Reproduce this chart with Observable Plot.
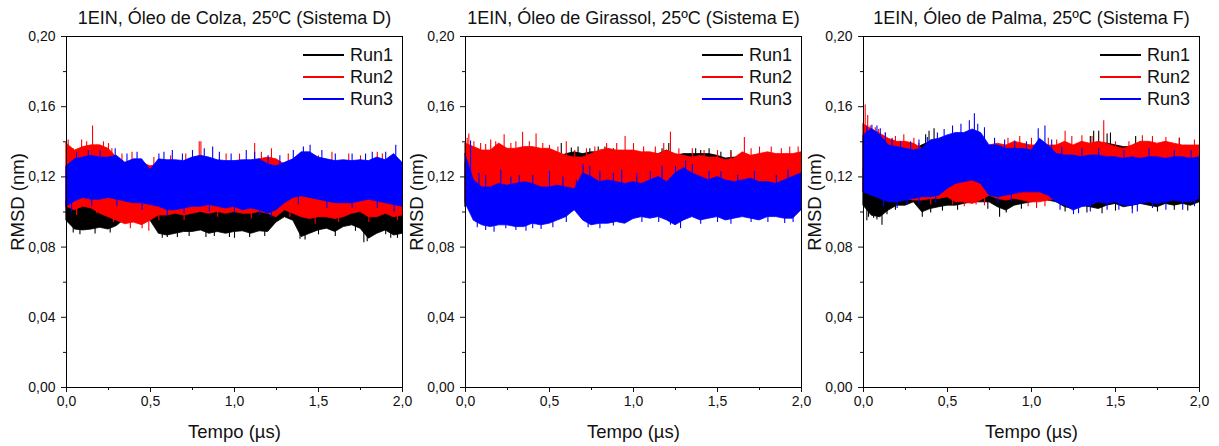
<!DOCTYPE html>
<html><head><meta charset="utf-8">
<script src="https://cdn.jsdelivr.net/npm/d3@7"></script>
<script src="https://cdn.jsdelivr.net/npm/@observablehq/plot@0.6"></script>
<style>
body{margin:0;background:#fff;font-family:"Liberation Sans",Arial,sans-serif;}
#wrap{position:relative;width:1219px;height:446px;overflow:hidden;background:#fff;}
#wrap svg{position:absolute;top:0;overflow:visible;}
.legend{position:absolute;font-size:18px;color:#111;line-height:22px;}
.legend .row{height:22px;display:flex;align-items:center;}
.legend .sw{display:inline-block;width:41px;height:2px;margin-right:6px;}
</style></head><body><div id="wrap"></div><script>
// ---------- data ----------
const TIME = [0,0.05,0.1,0.15,0.2,0.25,0.3,0.35,0.4,0.45,0.5,0.55,0.6,0.65,0.7,0.75,0.8,0.85,0.9,0.95,1,1.05,1.1,1.15,1.2,1.25,1.3,1.35,1.4,1.45,1.5,1.55,1.6,1.65,1.7,1.75,1.8,1.85,1.9,1.95,2];
const RUNS = ["Run1","Run2","Run3"];
const TITLES = ["1EIN, Óleo de Colza, 25ºC (Sistema D)","1EIN, Óleo de Girassol, 25ºC (Sistema E)","1EIN, Óleo de Palma, 25ºC (Sistema F)"];
const Y_LABEL = "RMSD (nm)";
const X_LABEL = "Tempo (\u00b5s)";
const Y_TICKS = [0,0.04,0.08,0.12,0.16,0.20];
const Y_MINOR = [0.02,0.06,0.10,0.14,0.18];
const X_TICKS = [0,0.5,1,1.5,2];
const X_MINOR = [0.25,0.75,1.25,1.75];

// Sistema D (Colza): lower/upper envelopes of each run + individual spikes
const D_RUN1_HI = [.106,.106,.107,.107,.106,.106,.105,.100,.100,.100,.100,.101,.100,.100,.101,.101,.101,.100,.100,.101,.101,.101,.100,.101,.100,.099,.102,.101,.100,.101,.101,.101,.100,.101,.101,.101,.100,.100,.101,.100,.101];
const D_RUN1_LO = [.095,.090,.0895,.090,.091,.090,.092,.096,.096,.096,.095,.0876,.0866,.0876,.0886,.0886,.0895,.0876,.0886,.0876,.0886,.089,.0876,.089,.0886,.094,.097,.095,.0857,.0876,.0895,.0905,.0886,.0914,.0924,.0905,.0848,.0876,.0895,.0866,.0876];
const D_RUN2_HI = [.139,.135,.137,.138,.138,.136,.131,.128,.128,.128,.126,.127,.127,.127,.127,.128,.129,.128,.127,.127,.127,.128,.129,.130,.131,.130,.127,.127,.128,.129,.128,.127,.127,.128,.128,.127,.128,.128,.127,.128,.127];
const D_RUN2_LO = [.103,.101,.103,.102,.099,.097,.095,.093,.094,.0925,.095,.098,.098,.099,.098,.099,.100,.099,.100,.099,.100,.099,.099,.100,.099,.097,.101,.099,.097,.096,.097,.097,.096,.097,.099,.100,.097,.097,.099,.097,.098];
const D_RUN3_HI = [.126,.130,.131,.132,.131,.131,.132,.128,.130,.130,.124,.130,.1295,.1295,.129,.131,.132,.131,.1295,.129,.129,.1295,.1295,.130,.127,.126,.128,.130,.134,.134,.131,.130,.129,.1295,.129,.1295,.129,.131,.1295,.133,.128];
const D_RUN3_LO = [.103,.106,.108,.107,.107,.108,.107,.106,.105,.105,.104,.103,.101,.101,.102,.103,.103,.104,.103,.102,.103,.101,.102,.101,.099,.101,.105,.108,.109,.108,.107,.106,.105,.105,.105,.106,.107,.106,.105,.104,.103];
const D_RUN1_SPK_T = [0.6,0.83,1.0,1.39,1.77,1.93,0.04,0.08,0.17,0.26,0.57,0.66,0.73,0.88,0.97,1.09,1.18,1.42,1.5,1.6,1.72,1.79,1.9,1.97];
const D_RUN1_SPK_V = [.0855,.0855,.085,.0845,.0825,.085,.088,.087,.0875,.088,.085,.0855,.086,.086,.0855,.0855,.086,.084,.087,.086,.089,.083,.087,.085];
const D_RUN2_SPK_T = [0.01,0.09,0.155,0.22,0.25,0.8,1.12,0.45,0.49,0.04,0.12,0.18,0.27,0.33,0.39,0.52,0.62,0.71,0.79,0.95,1.03,1.16,1.22,1.32,1.5,1.58,1.68,1.75,1.85,1.88,0.06,0.18,0.28,0.38,0.55,0.7,0.9,1.1,1.33,1.48,1.62,1.8,1.97];
const D_RUN2_SPK_V = [.141,.141,.149,.140,.139,.140,.139,.0905,.089,.136,.14,.138,.136,.133,.134,.131,.132,.133,.14,.133,.133,.134,.136,.133,.132,.134,.133,.132,.134,.133,.098,.099,.094,.0905,.095,.095,.097,.096,.097,.093,.094,.094,.095];
const D_RUN3_SPK_T = [0.58,0.87,1.07,1.45,1.96,0.06,0.13,0.2,0.29,0.36,0.42,0.55,0.63,0.69,0.75,0.82,0.91,0.98,1.12,1.2,1.27,1.35,1.41,1.52,1.6,1.7,1.78,1.82,1.9,0.03,0.15,0.3,0.45,0.6,0.7,0.85,1.0,1.15,1.22,1.38,1.55,1.7,1.85,1.95];
const D_RUN3_SPK_V = [.134,.137,.135,.138,.138,.134,.135,.135,.136,.133,.134,.133,.135,.133,.135,.136,.134,.133,.134,.132,.132,.135,.137,.135,.133,.133,.133,.134,.134,.100,.103,.103,.101,.098,.099,.100,.099,.098,.097,.104,.102,.102,.102,.100];

// Sistema E (Girassol)
const E_RUN1_HI = [.128,.130,.130,.131,.131,.131,.131,.131,.131,.131,.131,.131,.133,.134,.133,.134,.134,.134,.133,.132,.132,.131,.132,.133,.135,.132,.133,.133,.133,.133,.132,.1305,.131,.131,.131,.131,.131,.131,.131,.131,.130];
const E_RUN1_LO = [.103,.108,.109,.109,.108,.109,.108,.109,.109,.108,.109,.109,.110,.111,.110,.110,.109,.109,.110,.109,.110,.110,.109,.110,.111,.110,.111,.110,.110,.110,.110,.109,.110,.110,.110,.109,.110,.110,.110,.110,.110];
const E_RUN2_HI = [.139,.137,.135,.135,.139,.136,.136,.137,.137,.136,.136,.134,.132,.131,.131,.133,.135,.136,.135,.135,.135,.134,.134,.133,.135,.133,.132,.131,.132,.131,.131,.1295,.1305,.134,.132,.133,.134,.133,.133,.133,.134];
const E_RUN2_LO = [.106,.110,.111,.111,.112,.112,.111,.112,.112,.111,.111,.111,.112,.113,.113,.114,.112,.112,.112,.112,.112,.112,.112,.113,.112,.113,.115,.113,.112,.112,.112,.112,.112,.112,.112,.112,.112,.112,.112,.113,.114];
const E_RUN3_HI = [.133,.118,.114,.114,.116,.115,.116,.117,.116,.114,.114,.115,.114,.113,.122,.120,.117,.118,.117,.116,.117,.116,.118,.120,.117,.122,.125,.122,.120,.118,.120,.118,.117,.118,.119,.117,.117,.116,.118,.120,.122];
const E_RUN3_LO = [.105,.095,.0924,.0914,.0924,.0924,.0914,.0914,.0933,.0924,.0933,.0952,.0971,.101,.0952,.0924,.0933,.0933,.0943,.0933,.096,.0971,.0962,.0971,.0952,.0924,.0952,.0971,.0952,.0962,.0971,.0952,.0962,.0971,.0962,.0952,.0971,.0971,.0962,.0962,.101];
const E_RUN1_SPK_T = [0.57,0.83,1.21,1.37,1.58,0.63,0.67,0.74,0.79,0.88,1.17,1.4,1.45,1.52];
const E_RUN1_SPK_V = [.139,.137,.139,.136,.135,.1365,.137,.136,.137,.136,.136,.135,.136,.134];
const E_RUN2_SPK_T = [0.02,0.15,0.23,0.34,0.42,0.6,0.95,1.22,1.66,1.98,0.01,0.05,0.09,0.12,0.18,0.27,0.3,0.38,0.46,0.5,0.55,0.65,0.72,0.77,0.84,0.9,1.0,1.06,1.13,1.18,1.27,1.35,1.42,1.5,1.58,1.7,1.75,1.82,1.88,1.93];
const E_RUN2_SPK_V = [.1445,.141,.144,.1455,.1445,.140,.143,.1455,.1425,.137,.142,.14,.139,.1385,.14,.139,.14,.14,.139,.138,.137,.135,.136,.137,.139,.139,.139,.137,.137,.139,.136,.136,.135,.135,.134,.136,.137,.137,.136,.137];
const E_RUN3_SPK_T = [0.03,0.21,0.5,0.7,0.93,1.31,0.17,0.45,1.28,0.36,0.08,0.12,0.27,0.32,0.4,0.58,0.66,0.74,0.8,0.88,1.02,1.1,1.17,1.25,1.35,1.45,1.52,1.62,1.72,1.85,1.92,0.07,0.12,0.24,0.3,0.4,0.52,0.6,0.73,0.8,0.88,1.05,1.15,1.22,1.4,1.5,1.58,1.7,1.8,1.9,1.95];
const E_RUN3_SPK_V = [.1405,.124,.123,.127,.124,.129,.0885,.090,.0905,.089,.122,.121,.12,.121,.121,.12,.118,.126,.123,.122,.122,.123,.126,.126,.127,.123,.123,.121,.123,.121,.124,.091,.0895,.0905,.0895,.0905,.091,.094,.091,.0905,.092,.094,.094,.0925,.093,.094,.093,.094,.094,.0935,.094];

// Sistema F (Palma)
const F_RUN1_HI = [.125,.134,.134,.134,.135,.135,.135,.138,.140,.137,.135,.135,.134,.134,.135,.136,.136,.135,.136,.136,.136,.136,.136,.136,.137,.137,.138,.138,.139,.139,.138,.137,.137,.137,.137,.137,.137,.137,.137,.137,.137];
const F_RUN1_LO = [.1036,.0979,.097,.1008,.1036,.1036,.1055,.0998,.1017,.1027,.1036,.1036,.1046,.1055,.1055,.1055,.1027,.1008,.1036,.1046,.1055,.1065,.1065,.1055,.1027,.1017,.1036,.1027,.1017,.1036,.1046,.1027,.1036,.1046,.1036,.1027,.1046,.1036,.1046,.1036,.1055];
const F_RUN2_HI = [.150,.147,.1446,.1417,.140,.140,.1389,.136,.1341,.1331,.1331,.1331,.1331,.1322,.1331,.1379,.1389,.1379,.140,.1389,.1379,.1379,.1379,.1379,.140,.1379,.140,.1389,.140,.1389,.137,.136,.1379,.140,.140,.1389,.140,.1389,.1379,.1379,.1379];
const F_RUN2_LO = [.1112,.1131,.1112,.1093,.1084,.1074,.1065,.1065,.1074,.1074,.1084,.1055,.1055,.1046,.1065,.1093,.1074,.1065,.1074,.1065,.1055,.1055,.1065,.1074,.1074,.1074,.1084,.1074,.1084,.1084,.1084,.1074,.1084,.1084,.1093,.1084,.1084,.1093,.1084,.1093,.1093];
const F_RUN3_HI = [.1436,.1474,.1436,.1379,.137,.136,.135,.136,.1408,.1417,.1436,.145,.145,.147,.145,.1379,.1379,.136,.136,.136,.135,.1417,.1379,.1331,.1322,.1322,.1312,.1322,.1322,.1312,.1312,.1303,.1312,.1303,.1312,.1312,.1303,.1312,.1312,.1303,.1312];
const F_RUN3_LO = [.1112,.1093,.1074,.1055,.1055,.1065,.1074,.1084,.1084,.1093,.1131,.116,.117,.1179,.116,.1093,.1084,.1093,.1103,.1112,.1112,.1112,.1093,.1055,.1036,.1008,.1027,.1036,.1055,.1046,.1055,.1036,.1036,.1046,.1055,.1046,.1055,.1065,.1055,.1055,.1074];
const F_RUN1_SPK_T = [0.02,0.06,0.11,0.42,0.81,1.37,1.47,0.37,1.62,0.03,0.08,0.14,0.19,0.35,0.4,0.47,0.56,0.74,0.85,0.94,1.2,1.33,1.42,1.5,1.6,1.75,1.85,1.93,0.39,1.4,1.45,1.35,1.88];
const F_RUN1_SPK_V = [.095,.0965,.0925,.1475,.097,.146,.145,.144,.143,.097,.0955,.0985,.101,.097,.0995,.1005,.101,.1015,.0995,.1015,.100,.0995,.099,.1005,.1015,.1,.101,.1005,.146,.146,.1445,.143,.142];
const F_RUN2_SPK_T = [0.01,0.025,0.04,0.09,1.43,0.5,1.2,0.07,0.13,0.19,0.24,0.3,0.33,0.78,0.86,0.93,1.0,1.1,1.15,1.24,1.3,1.36,1.5,1.58,1.66,1.72,1.8,1.88,1.97,0.53,0.6,0.67,0.72,0.98,1.03,1.08,0.4];
const F_RUN2_SPK_V = [.161,.155,.149,.147,.152,.143,.146,.148,.145,.143,.144,.142,.139,.141,.142,.143,.142,.142,.141,.143,.1435,.143,.14,.14,.1435,.143,.1425,.142,.141,.104,.103,.104,.1035,.103,.102,.103,.104];
const F_RUN3_SPK_T = [0.66,0.63,0.68,1.08,0.05,0.1,1.25,1.6,0.02,0.08,0.13,0.17,0.22,0.28,0.33,0.38,0.44,0.48,0.53,0.58,0.72,0.78,0.84,0.9,0.97,1.04,1.12,1.18,1.3,1.4,1.55,1.7,1.85,1.95,0.12,0.2,0.26,0.33,0.43,0.8,0.88,1.17,1.28,1.35,1.45,1.52,1.63,1.72,1.8,1.9,1.97];
const F_RUN3_SPK_V = [.156,.152,.150,.149,.1495,.1475,.0985,.099,.149,.149,.145,.142,.14,.14,.141,.1425,.145,.147,.149,.150,.148,.142,.141,.1405,.140,.1475,.141,.137,.136,.136,.135,.136,.135,.135,.103,.102,.104,.104,.105,.105,.106,.101,.099,.1,.101,.101,.100,.102,.101,.101,.103];

const COLORS = ["#000000","#ff0000","#0000ff"];

// ---------- layout ----------
const PANELS = [
  {left:0,   width:406, ml:66, mr:4,  runs:[[D_RUN1_LO,D_RUN1_HI,D_RUN1_SPK_T,D_RUN1_SPK_V],[D_RUN2_LO,D_RUN2_HI,D_RUN2_SPK_T,D_RUN2_SPK_V],[D_RUN3_LO,D_RUN3_HI,D_RUN3_SPK_T,D_RUN3_SPK_V]]},
  {left:406, width:406, ml:59, mr:11, runs:[[E_RUN1_LO,E_RUN1_HI,E_RUN1_SPK_T,E_RUN1_SPK_V],[E_RUN2_LO,E_RUN2_HI,E_RUN2_SPK_T,E_RUN2_SPK_V],[E_RUN3_LO,E_RUN3_HI,E_RUN3_SPK_T,E_RUN3_SPK_V]]},
  {left:812, width:407, ml:51, mr:20, runs:[[F_RUN1_LO,F_RUN1_HI,F_RUN1_SPK_T,F_RUN1_SPK_V],[F_RUN2_LO,F_RUN2_HI,F_RUN2_SPK_T,F_RUN2_SPK_V],[F_RUN3_LO,F_RUN3_HI,F_RUN3_SPK_T,F_RUN3_SPK_V]]}
];
const fmtY = v => v.toFixed(2).replace(".", ",");
const fmtX = v => v.toFixed(1).replace(".", ",");
const wrap = document.getElementById("wrap");

PANELS.forEach((p, pi) => {
  const marks = [];
  p.runs.forEach(([lo, hi, st, sv], ri) => {
    const rows = TIME.map((t, i) => ({t, lo: lo[i], hi: hi[i]}));
    marks.push(Plot.areaY(rows, {x: "t", y1: "lo", y2: "hi", fill: COLORS[ri], stroke: COLORS[ri], strokeWidth: 0.8}));
    const sp = st.map((t, i) => {
      const k = Math.round(t / 0.05);
      return {t, v: sv[i], b: (lo[k] + hi[k]) / 2};
    });
    marks.push(Plot.ruleX(sp, {x: "t", y1: "b", y2: "v", stroke: COLORS[ri], strokeWidth: 1.1}));
  });
  marks.push(Plot.frame({stroke: "#000", strokeWidth: 1}));
  marks.push(Plot.axisY({ticks: Y_TICKS, tickFormat: fmtY, tickSize: 5, tickPadding: 6, label: null}));
  marks.push(Plot.axisY({ticks: Y_MINOR, tickFormat: () => "", tickSize: 3, label: null}));
  marks.push(Plot.axisX({ticks: X_TICKS, tickFormat: fmtX, tickSize: 5, tickPadding: 4, label: null}));
  marks.push(Plot.axisX({ticks: X_MINOR, tickFormat: () => "", tickSize: 3, label: null}));
  marks.push(Plot.text([TITLES[pi]], {text: d => d, frameAnchor: "top", dy: -18, fontSize: 18, textAnchor: "middle", lineAnchor: "middle", fill: "#111"}));
  marks.push(Plot.text([Y_LABEL], {text: d => d, frameAnchor: "left", dx: -48, dy: -10, rotate: -90, fontSize: 18.5, textAnchor: "middle", lineAnchor: "middle", fill: "#111"}));
  marks.push(Plot.text([X_LABEL], {text: d => d, frameAnchor: "bottom", dy: 45, fontSize: 18.5, textAnchor: "middle", lineAnchor: "middle", fill: "#111"}));
  const svg = Plot.plot({
    width: p.width, height: 446,
    marginLeft: p.ml, marginRight: p.mr, marginTop: 36, marginBottom: 59,
    x: {domain: [0, 2]},
    y: {domain: [0, 0.2]},
    style: {background: "transparent", fontFamily: "'Liberation Sans', Arial, sans-serif", fontSize: "14px", color: "#111"},
    marks
  });
  svg.style.left = p.left + "px";
  wrap.appendChild(svg);
  // legend
  const areaRight = p.left + p.width - p.mr;
  const lg = document.createElement("div");
  lg.className = "legend";
  lg.style.left = (areaRight - 99) + "px";
  lg.style.top = "44px";
  RUNS.forEach((name, ri) => {
    const row = document.createElement("div");
    row.className = "row";
    const sw = document.createElement("span");
    sw.className = "sw";
    sw.style.backgroundColor = COLORS[ri];
    const tx = document.createElement("span");
    tx.textContent = name;
    row.appendChild(sw); row.appendChild(tx);
    lg.appendChild(row);
  });
  wrap.appendChild(lg);
});
</script></body></html>
